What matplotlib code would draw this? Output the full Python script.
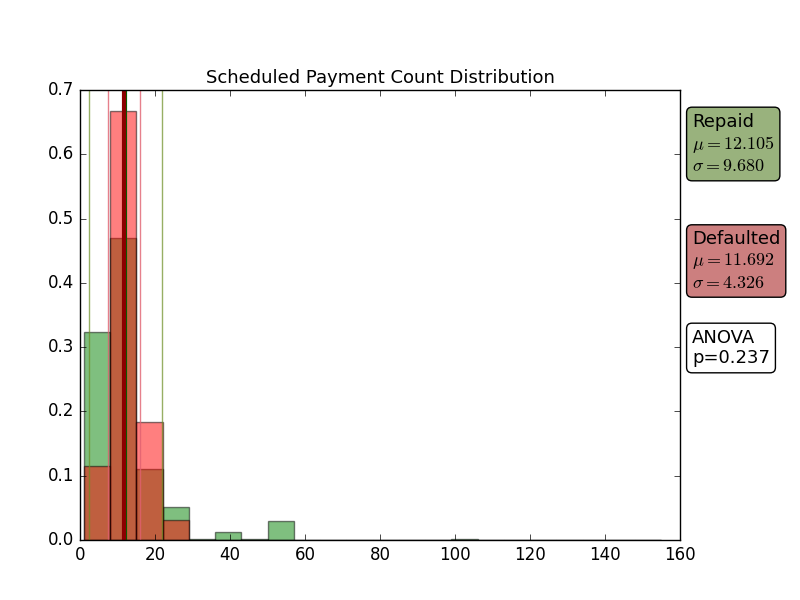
import numpy as np
import matplotlib
matplotlib.use("Agg")
import matplotlib.pyplot as plt

plt.style.use("classic")

bin_edges = np.arange(1, 155 + 7, 7)
repaid = [0.323, 0.470, 0.110, 0.051, 0.001, 0.012, 0.001, 0.030, 0.0, 0.0, 0.0, 0.0, 0.0,
          0.0, 0.001, 0.0, 0.0, 0.0, 0.0, 0.0, 0.0, 0.0]
defaulted = [0.115, 0.668, 0.183, 0.031, 0.0, 0.0, 0.0, 0.0, 0.0, 0.0, 0.0, 0.0, 0.0,
             0.0, 0.0, 0.0, 0.0, 0.0, 0.0, 0.0, 0.0, 0.0]
mu_r, sd_r = 12.105, 9.680
mu_d, sd_d = 11.692, 4.326
p_val = 0.237

fig = plt.figure(figsize=(8, 6), dpi=100)
ax = fig.add_axes([0.1, 0.1, 0.75, 0.75])
w = np.diff(bin_edges)
ax.bar(bin_edges[:-1], repaid, width=w, align="edge", color="green", alpha=0.5, edgecolor="black")
ax.bar(bin_edges[:-1], defaulted, width=w, align="edge", color="red", alpha=0.5, edgecolor="black")

for x in (mu_r - sd_r, mu_r + sd_r):
    ax.axvline(x, color="olivedrab", lw=1, alpha=0.7)
for x in (mu_d - sd_d, mu_d + sd_d):
    ax.axvline(x, color="#e06070", lw=1, alpha=0.8)
ax.axvline(mu_r, color="darkgreen", lw=3)
ax.axvline(mu_d, color="darkred", lw=3)

ax.set_xlim(0, 160)
ax.set_ylim(0, 0.7)
ax.set_title("Scheduled Payment Count Distribution", fontsize=13)

fig.text(0.865, 0.76, "Repaid\n$\\mu = %.3f$\n$\\sigma = %.3f$" % (mu_r, sd_r), fontsize=13,
         va="center", bbox=dict(boxstyle="round", facecolor="#99b27d", edgecolor="black"))
fig.text(0.865, 0.565, "Defaulted\n$\\mu = %.3f$\n$\\sigma = %.3f$" % (mu_d, sd_d), fontsize=13,
         va="center", bbox=dict(boxstyle="round", facecolor="#cc7f7f", edgecolor="black"))
fig.text(0.865, 0.42, "ANOVA\np=%.3f" % p_val, fontsize=13,
         va="center", bbox=dict(boxstyle="round", facecolor="white", edgecolor="black"))

fig.savefig("out.png", dpi=100)
